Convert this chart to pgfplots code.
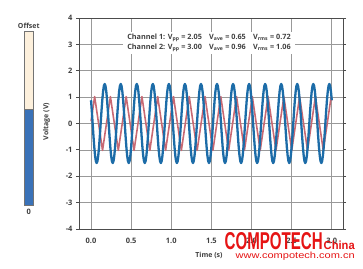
\documentclass[border=0pt]{standalone}
\usepackage{pgfplots}
\pgfplotsset{compat=1.18}
\usepackage{fontspec}
\setmainfont{Open Sans}
\newfontfamily\wm{Liberation Sans}
\definecolor{bl}{RGB}{28,108,168}
\definecolor{rd}{RGB}{200,105,115}
\definecolor{cream}{RGB}{253,240,220}
\definecolor{barblue}{RGB}{58,114,184}
\definecolor{wmred}{RGB}{230,20,20}
\begin{document}
\begin{tikzpicture}
\path[use as bounding box, fill=white] (0,0) rectangle (363bp,269bp);
% offset bar
\draw[black!55, line width=0.8pt, fill=cream] (24.5bp,64bp) rectangle (33bp,237.5bp);
\draw[black!55, line width=0.8pt, fill=barblue] (24.5bp,64bp) rectangle (33bp,160bp);
\node[font=\fontsize{7}{8}\selectfont\bfseries, text=black!75] at (28.75bp,243.5bp) {Offset};
\node[font=\fontsize{7.5}{8}\selectfont\bfseries, text=black!75] at (28.75bp,57.5bp) {0};
\node[rotate=90, font=\fontsize{7}{8}\selectfont\bfseries, text=black!75] at (46.5bp,147.5bp) {Voltage (V)};
\begin{axis}[
  at={(79bp,40bp)}, anchor=south west,
  scale only axis, width=264bp, height=211bp,
  xmin=-0.15, xmax=3.14, ymin=-4, ymax=4,
  xtick={0,0.5,1,1.5,2,2.5,3},
  xticklabels={0.0,0.5,1.0,1.5,2.0,2.5,3.0},
  ytick={-4,-3,-2,-1,0,1,2,3,4},
  yticklabels={-4,-3,-2,-1,0,1,2,3,4},
  grid=major,
  grid style={black!40, line width=0.6pt},
  axis line style={black!70, line width=0.8pt},
  x tick style={draw=none},
  y tick style={black!70, line width=0.8pt},
  tick align=outside, major tick length=3bp,
  tick label style={font=\fontsize{7.5}{9}\selectfont\bfseries, text=black!75},
  xticklabel style={yshift=-3bp},
  clip=true,
]
\addplot[rd, line width=1.6pt, line join=round] coordinates {
(0,0.086)(0.045,1.02)(0.14325,-1.02)(0.2415,1.02)(0.33975,-1.02)(0.438,1.02)(0.53625,-1.02)(0.6345,1.02)(0.73275,-1.02)(0.831,1.02)(0.92925,-1.02)(1.0275,1.02)(1.12575,-1.02)(1.224,1.02)(1.32225,-1.02)(1.4205,1.02)(1.51875,-1.02)(1.617,1.02)(1.71525,-1.02)(1.8135,1.02)(1.91175,-1.02)(2.01,1.02)(2.10825,-1.02)(2.2065,1.02)(2.30475,-1.02)(2.403,1.02)(2.50125,-1.02)(2.5995,1.02)(2.69775,-1.02)(2.796,1.02)(2.89425,-1.02)(2.9925,1.02)(3.0,0.87)
};
\addplot[bl, line width=2.3pt, line join=round] coordinates {
(0.00,0.882)(0.01,0.464)(0.02,0)(0.03,-0.464)(0.04,-0.882)(0.05,-1.214)(0.06,-1.427)(0.07,-1.5)(0.08,-1.427)(0.09,-1.214)
(0.10,-0.882)(0.11,-0.464)(0.12,0)(0.13,0.464)(0.14,0.882)(0.15,1.214)(0.16,1.427)(0.17,1.5)(0.18,1.427)(0.19,1.214)
(0.20,0.882)(0.21,0.464)(0.22,0)(0.23,-0.464)(0.24,-0.882)(0.25,-1.214)(0.26,-1.427)(0.27,-1.5)(0.28,-1.427)(0.29,-1.214)
(0.30,-0.882)(0.31,-0.464)(0.32,0)(0.33,0.464)(0.34,0.882)(0.35,1.214)(0.36,1.427)(0.37,1.5)(0.38,1.427)(0.39,1.214)
(0.40,0.882)(0.41,0.464)(0.42,0)(0.43,-0.464)(0.44,-0.882)(0.45,-1.214)(0.46,-1.427)(0.47,-1.5)(0.48,-1.427)(0.49,-1.214)
(0.50,-0.882)(0.51,-0.464)(0.52,0)(0.53,0.464)(0.54,0.882)(0.55,1.214)(0.56,1.427)(0.57,1.5)(0.58,1.427)(0.59,1.214)
(0.60,0.882)(0.61,0.464)(0.62,0)(0.63,-0.464)(0.64,-0.882)(0.65,-1.214)(0.66,-1.427)(0.67,-1.5)(0.68,-1.427)(0.69,-1.214)
(0.70,-0.882)(0.71,-0.464)(0.72,0)(0.73,0.464)(0.74,0.882)(0.75,1.214)(0.76,1.427)(0.77,1.5)(0.78,1.427)(0.79,1.214)
(0.80,0.882)(0.81,0.464)(0.82,0)(0.83,-0.464)(0.84,-0.882)(0.85,-1.214)(0.86,-1.427)(0.87,-1.5)(0.88,-1.427)(0.89,-1.214)
(0.90,-0.882)(0.91,-0.464)(0.92,0)(0.93,0.464)(0.94,0.882)(0.95,1.214)(0.96,1.427)(0.97,1.5)(0.98,1.427)(0.99,1.214)
(1.00,0.882)(1.01,0.464)(1.02,0)(1.03,-0.464)(1.04,-0.882)(1.05,-1.214)(1.06,-1.427)(1.07,-1.5)(1.08,-1.427)(1.09,-1.214)
(1.10,-0.882)(1.11,-0.464)(1.12,0)(1.13,0.464)(1.14,0.882)(1.15,1.214)(1.16,1.427)(1.17,1.5)(1.18,1.427)(1.19,1.214)
(1.20,0.882)(1.21,0.464)(1.22,0)(1.23,-0.464)(1.24,-0.882)(1.25,-1.214)(1.26,-1.427)(1.27,-1.5)(1.28,-1.427)(1.29,-1.214)
(1.30,-0.882)(1.31,-0.464)(1.32,0)(1.33,0.464)(1.34,0.882)(1.35,1.214)(1.36,1.427)(1.37,1.5)(1.38,1.427)(1.39,1.214)
(1.40,0.882)(1.41,0.464)(1.42,0)(1.43,-0.464)(1.44,-0.882)(1.45,-1.214)(1.46,-1.427)(1.47,-1.5)(1.48,-1.427)(1.49,-1.214)
(1.50,-0.882)(1.51,-0.464)(1.52,0)(1.53,0.464)(1.54,0.882)(1.55,1.214)(1.56,1.427)(1.57,1.5)(1.58,1.427)(1.59,1.214)
(1.60,0.882)(1.61,0.464)(1.62,0)(1.63,-0.464)(1.64,-0.882)(1.65,-1.214)(1.66,-1.427)(1.67,-1.5)(1.68,-1.427)(1.69,-1.214)
(1.70,-0.882)(1.71,-0.464)(1.72,0)(1.73,0.464)(1.74,0.882)(1.75,1.214)(1.76,1.427)(1.77,1.5)(1.78,1.427)(1.79,1.214)
(1.80,0.882)(1.81,0.464)(1.82,0)(1.83,-0.464)(1.84,-0.882)(1.85,-1.214)(1.86,-1.427)(1.87,-1.5)(1.88,-1.427)(1.89,-1.214)
(1.90,-0.882)(1.91,-0.464)(1.92,0)(1.93,0.464)(1.94,0.882)(1.95,1.214)(1.96,1.427)(1.97,1.5)(1.98,1.427)(1.99,1.214)
(2.00,0.882)(2.01,0.464)(2.02,0)(2.03,-0.464)(2.04,-0.882)(2.05,-1.214)(2.06,-1.427)(2.07,-1.5)(2.08,-1.427)(2.09,-1.214)
(2.10,-0.882)(2.11,-0.464)(2.12,0)(2.13,0.464)(2.14,0.882)(2.15,1.214)(2.16,1.427)(2.17,1.5)(2.18,1.427)(2.19,1.214)
(2.20,0.882)(2.21,0.464)(2.22,0)(2.23,-0.464)(2.24,-0.882)(2.25,-1.214)(2.26,-1.427)(2.27,-1.5)(2.28,-1.427)(2.29,-1.214)
(2.30,-0.882)(2.31,-0.464)(2.32,0)(2.33,0.464)(2.34,0.882)(2.35,1.214)(2.36,1.427)(2.37,1.5)(2.38,1.427)(2.39,1.214)
(2.40,0.882)(2.41,0.464)(2.42,0)(2.43,-0.464)(2.44,-0.882)(2.45,-1.214)(2.46,-1.427)(2.47,-1.5)(2.48,-1.427)(2.49,-1.214)
(2.50,-0.882)(2.51,-0.464)(2.52,0)(2.53,0.464)(2.54,0.882)(2.55,1.214)(2.56,1.427)(2.57,1.5)(2.58,1.427)(2.59,1.214)
(2.60,0.882)(2.61,0.464)(2.62,0)(2.63,-0.464)(2.64,-0.882)(2.65,-1.214)(2.66,-1.427)(2.67,-1.5)(2.68,-1.427)(2.69,-1.214)
(2.70,-0.882)(2.71,-0.464)(2.72,0)(2.73,0.464)(2.74,0.882)(2.75,1.214)(2.76,1.427)(2.77,1.5)(2.78,1.427)(2.79,1.214)
(2.80,0.882)(2.81,0.464)(2.82,0)(2.83,-0.464)(2.84,-0.882)(2.85,-1.214)(2.86,-1.427)(2.87,-1.5)(2.88,-1.427)(2.89,-1.214)
(2.90,-0.882)(2.91,-0.464)(2.92,0)(2.93,0.464)(2.94,0.882)(2.95,1.214)(2.96,1.427)(2.97,1.5)(2.98,1.427)(2.99,1.214)
(3.00,0.882)
};
\node[fill=white, inner xsep=4bp, inner ysep=2bp, align=left, font=\fontsize{7.3}{10}\selectfont\bfseries, text=black!75] at (axis cs:1.47,3.05)
{Channel 1: V\textsubscript{pp} = 2.05\quad V\textsubscript{ave} = 0.65\quad V\textsubscript{rms} = 0.72\\
Channel 2: V\textsubscript{pp} = 3.00\quad V\textsubscript{ave} = 0.96\quad V\textsubscript{rms} = 1.06};
\end{axis}
\node[font=\fontsize{7}{8}\selectfont\bfseries, text=black!75] at (209bp,14bp) {Time (s)};
% watermark
\node[anchor=south west, inner sep=0, text=wmred] at (224.5bp,19bp) {\resizebox{98bp}{17bp}{\wm\bfseries COMPOTECH}};
\node[anchor=south west, inner sep=0, text=wmred] at (323.5bp,19bp) {\resizebox{31bp}{8.5bp}{\wm\bfseries China}};
\node[anchor=south west, inner sep=0, text=wmred] at (235.5bp,8bp) {\resizebox{119bp}{6.5bp}{\wm www.compotech.com.cn}};
\end{tikzpicture}
\end{document}
